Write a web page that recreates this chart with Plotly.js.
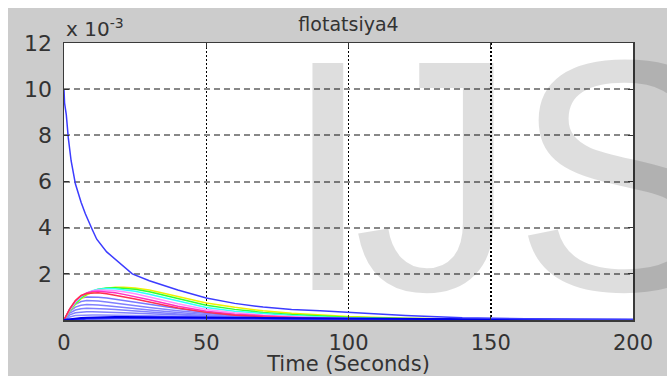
<!DOCTYPE html>
<html>
<head>
<meta charset="utf-8">
<script src="https://cdn.plot.ly/plotly-3.0.1.min.js"></script>
<style>
html,body{margin:0;padding:0;background:#ffffff;}
#chart{position:absolute;left:8px;top:8px;width:659px;height:368px;}
</style>
</head>
<body>
<div id="chart"></div>
<script>
// Values are in units of 1e-3
const tMain = [0,0.2,0.8,1.5,2.5,4,6,7.5,10,11.5,15,20,24,30,40,50,60,70,80,90,100,120,140,160,180,200];
const yMain = [10,9.4,8.9,7.9,6.9,5.9,5.1,4.6,3.9,3.5,2.95,2.4,2.0,1.7,1.3,0.95,0.72,0.56,0.46,0.4,0.33,0.2,0.1,0.05,0.02,0.01];

const tRise = [0,2,4,6,8,10,12,15,18,21,25,30,40,50,60,70,80,90,100,120,140,160,200];
const yYellow  = [0,0.38,0.68,0.92,1.09,1.21,1.30,1.38,1.42,1.42,1.39,1.30,1.02,0.74,0.55,0.40,0.29,0.21,0.15,0.08,0.04,0.02,0.005];
const yGreen   = [0,0.40,0.72,0.96,1.13,1.25,1.33,1.39,1.40,1.38,1.33,1.22,0.93,0.64,0.46,0.33,0.24,0.17,0.12,0.06,0.03,0.015,0.004];
const yCyan    = [0,0.42,0.76,1.00,1.16,1.27,1.33,1.36,1.35,1.31,1.25,1.12,0.82,0.54,0.38,0.27,0.19,0.13,0.09,0.045,0.02,0.01,0.003];
const yPink    = [0,0.44,0.79,1.03,1.17,1.26,1.30,1.30,1.27,1.22,1.14,1.00,0.70,0.45,0.31,0.21,0.15,0.10,0.07,0.035,0.015,0.008,0.002];
const yMagenta = [0,0.46,0.82,1.05,1.17,1.23,1.25,1.23,1.18,1.11,1.02,0.88,0.60,0.38,0.25,0.17,0.12,0.08,0.05,0.025,0.012,0.005,0.001];
const yRed     = [0,0.48,0.85,1.06,1.15,1.18,1.18,1.14,1.08,1.00,0.91,0.78,0.52,0.33,0.21,0.14,0.09,0.06,0.04,0.02,0.01,0.004,0.001];
const yLb1 = [0,0.47,0.80,0.95,1.00,1.01,0.99,0.95,0.90,0.84,0.77,0.68,0.50,0.33,0.21,0.14,0.09,0.06,0.04,0.02,0.01,0.004,0.001];
const yLb2 = [0,0.42,0.68,0.80,0.84,0.84,0.82,0.78,0.73,0.68,0.62,0.54,0.40,0.27,0.17,0.11,0.07,0.05,0.03,0.015,0.007,0.003,0.001];
const yLb3 = [0,0.37,0.56,0.64,0.67,0.67,0.65,0.62,0.58,0.54,0.49,0.43,0.32,0.22,0.14,0.09,0.06,0.04,0.025,0.01,0.005,0.002,0];
const yLb4 = [0,0.30,0.43,0.49,0.51,0.51,0.50,0.48,0.45,0.42,0.38,0.34,0.26,0.18,0.12,0.08,0.05,0.035,0.02,0.01,0.004,0.002,0];
const yLb5 = [0,0.22,0.31,0.35,0.36,0.36,0.36,0.35,0.33,0.31,0.29,0.26,0.20,0.15,0.10,0.07,0.045,0.03,0.02,0.008,0.003,0.001,0];
const yLb6 = [0,0.13,0.19,0.21,0.22,0.22,0.22,0.22,0.21,0.20,0.19,0.18,0.15,0.12,0.09,0.06,0.04,0.03,0.02,0.008,0.003,0.001,0];
const yDark1 = [0,0.04,0.07,0.09,0.10,0.11,0.12,0.12,0.13,0.13,0.13,0.13,0.12,0.11,0.10,0.09,0.08,0.07,0.06,0.04,0.03,0.02,0.01];
const yDark2 = [0,0.02,0.03,0.04,0.05,0.05,0.06,0.06,0.06,0.07,0.07,0.07,0.07,0.07,0.07,0.06,0.06,0.05,0.05,0.04,0.03,0.02,0.01];

const yTickVals = [2,4,6,8,10,12];
const yTickText = ['2','4','6','8','10','12'];
const xTickVals = [0,50,100,150,200];
const xTickText = ['0','50','100','150','200'];

const chartTitle = 'flotatsiya4';
const xTitle = 'Time (Seconds)';
const expLabel = 'x 10<sup>-3</sup>';
const watermarkLetters = ['I', 'J', 'S'];

function tr(x, y, color, w) {
  return {x: x, y: y, type: 'scatter', mode: 'lines', line: {color: color, width: w || 1.5}, hoverinfo: 'skip'};
}

const traces = [
  tr(tRise, yLb6, '#8c8cff'),
  tr(tRise, yLb5, '#8080ff'),
  tr(tRise, yLb4, '#8080ff'),
  tr(tRise, yLb3, '#8080ff'),
  tr(tRise, yLb2, '#8080ff'),
  tr(tRise, yLb1, '#7878ff'),
  tr(tRise, yYellow, '#f0f000'),
  tr(tRise, yGreen, '#30ff30'),
  tr(tRise, yCyan, '#30ffff'),
  tr(tRise, yPink, '#ff90ff'),
  tr(tRise, yMagenta, '#ff30c0'),
  tr(tRise, yRed, '#ff3050'),
  tr(tRise, yDark2, '#3030ff', 2),
  tr(tRise, yDark1, '#0000ee', 2),
  tr(tMain, yMain, '#3c3cff', 1.5)
];

const fontFam = 'DejaVu Sans, Liberation Sans, Arial, sans-serif';
const wmFont = {family: 'Liberation Sans, Arial, sans-serif', size: 330, color: 'rgba(0,0,0,0.13)'};
const wmY = 6.25;

const layout = {
  width: 659, height: 368,
  margin: {l: 56, r: 34, t: 35, b: 56},
  paper_bgcolor: '#cccccc',
  plot_bgcolor: '#ffffff',
  showlegend: false,
  font: {family: fontFam, color: '#333333', size: 20},
  title: {text: chartTitle, x: 0.5, xref: 'paper', y: 1, yref: 'paper', yanchor: 'bottom', pad: {b: 12},
          font: {family: fontFam, size: 19, color: '#333333'}},
  xaxis: {
    range: [0, 200], tickvals: xTickVals, ticktext: xTickText,
    ticks: 'inside', ticklen: 5, tickcolor: '#333', mirror: 'ticks',
    showline: true, linecolor: '#3a3a3a', linewidth: 1.5,
    showgrid: true, gridcolor: '#000000', gridwidth: 1.5, griddash: '2px,2px',
    zeroline: false, ticklabelstandoff: 3,
    tickfont: {family: fontFam, size: 21, color: '#333333'},
    title: {text: xTitle, standoff: 4, font: {family: fontFam, size: 21, color: '#333333'}}
  },
  yaxis: {
    range: [0, 12], tickvals: yTickVals, ticktext: yTickText,
    ticks: 'inside', ticklen: 5, tickcolor: '#333', mirror: 'ticks',
    showline: true, linecolor: '#3a3a3a', linewidth: 1.5,
    showgrid: true, gridcolor: '#888888', gridwidth: 2, griddash: '6px,4px',
    zeroline: false, ticklabelstandoff: 6,
    tickfont: {family: fontFam, size: 22, color: '#333333'}
  },
  annotations: [
    {text: expLabel, xref: 'paper', yref: 'paper', x: 0, y: 1, xanchor: 'left', yanchor: 'bottom',
     showarrow: false, yshift: 0, font: {family: fontFam, size: 20, color: '#333333'}},
    {text: watermarkLetters[0], xref: 'x', yref: 'y', x: 92.8, y: wmY, xanchor: 'center', yanchor: 'middle',
     showarrow: false, font: wmFont},
    {text: watermarkLetters[1], xref: 'x', yref: 'y', x: 130.5, y: wmY, xanchor: 'center', yanchor: 'middle',
     showarrow: false, font: wmFont},
    {text: watermarkLetters[2], xref: 'x', yref: 'y', x: 157.0, y: wmY, xanchor: 'left', yanchor: 'middle',
     showarrow: false, font: wmFont}
  ]
};

Plotly.newPlot('chart', traces, layout, {staticPlot: true, displayModeBar: false});
</script>
</body>
</html>
